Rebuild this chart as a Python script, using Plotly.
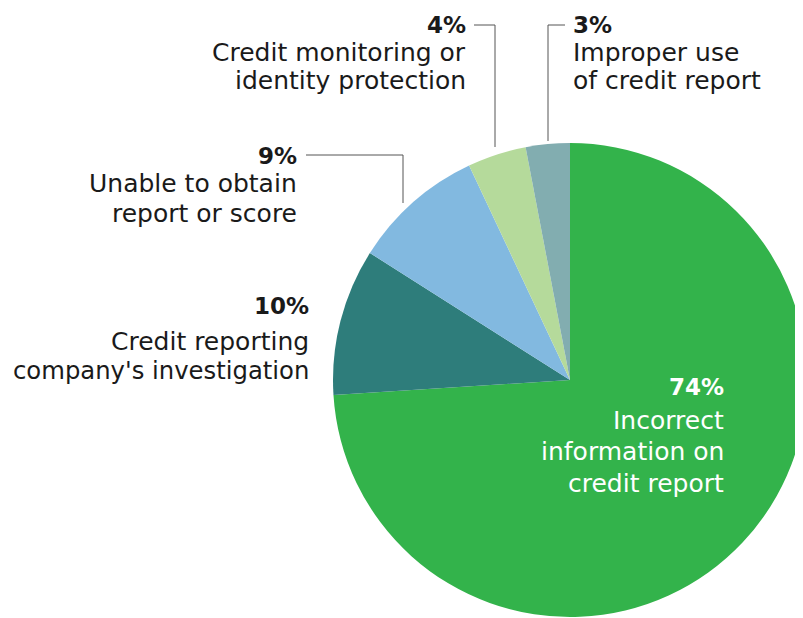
import plotly.graph_objects as go

W, H = 803, 618
OFF = 8  # default page body margin offsets the figure

categories = [
    "Incorrect information on credit report",
    "Credit reporting company's investigation",
    "Unable to obtain report or score",
    "Credit monitoring or identity protection",
    "Improper use of credit report",
]
values = [74, 10, 9, 4, 3]
colors = ["#33B34B", "#2E7D7B", "#82B9E0", "#B5DA9B", "#82ADB0"]

label_lines = [
    ["Incorrect", "information on", "credit report"],
    ["Credit reporting", "company's investigation"],
    ["Unable to obtain", "report or score"],
    ["Credit monitoring or", "identity protection"],
    ["Improper use", "of credit report"],
]

FONT = "DejaVu Sans"

def px(x):
    return (x - OFF) / W

def py(y):
    return 1 - (y - OFF) / H

fig = go.Figure(
    go.Pie(
        labels=categories,
        values=values,
        marker=dict(colors=colors, line=dict(width=0)),
        sort=False,
        direction="clockwise",
        rotation=0,
        textinfo="none",
        hoverinfo="label+percent",
        domain=dict(x=[px(333), px(807)], y=[py(617), py(143)]),
        showlegend=False,
    )
)

# label blocks (page px): x, line centre ys (percent first), xanchor, colour
blocks = [
    (725, [387, 420, 451, 483], "right", "white"),
    (310, [306, 341, 370], "right", "#1a1a1a"),
    (298, [156, 184, 213], "right", "#1a1a1a"),
    (467, [25, 53, 81], "right", "#1a1a1a"),
    (572, [25, 53, 81], "left", "#1a1a1a"),
]

annotations = []
for v, lines, (x, ys, xa, col) in zip(values, label_lines, blocks):
    texts = [f"<b>{v}%</b>"] + lines
    for i, (t, y) in enumerate(zip(texts, ys)):
        size = 23 if i == 0 else (24.3 if len(t) > 21 else 25)
        annotations.append(
            dict(
                x=px(x), y=py(y), xref="paper", yref="paper",
                xanchor=xa, yanchor="middle", align=xa,
                text=t, showarrow=False, borderpad=0,
                font=dict(family=FONT, size=size, color=col),
            )
        )

line_style = dict(color="#555555", width=1)
shapes = [
    dict(type="path", xref="paper", yref="paper",
         path=f"M {px(474)},{py(25)} L {px(495)},{py(25)} L {px(495)},{py(147)}",
         line=line_style),
    dict(type="path", xref="paper", yref="paper",
         path=f"M {px(565)},{py(25)} L {px(548)},{py(25)} L {px(548)},{py(141)}",
         line=line_style),
    dict(type="path", xref="paper", yref="paper",
         path=f"M {px(306)},{py(155)} L {px(403)},{py(155)} L {px(403)},{py(203)}",
         line=line_style),
]

fig.update_layout(
    width=W, height=H,
    margin=dict(l=0, r=0, t=0, b=0),
    paper_bgcolor="white",
    plot_bgcolor="white",
    annotations=annotations,
    shapes=shapes,
    font=dict(family=FONT),
)

fig.write_html("out.html")
